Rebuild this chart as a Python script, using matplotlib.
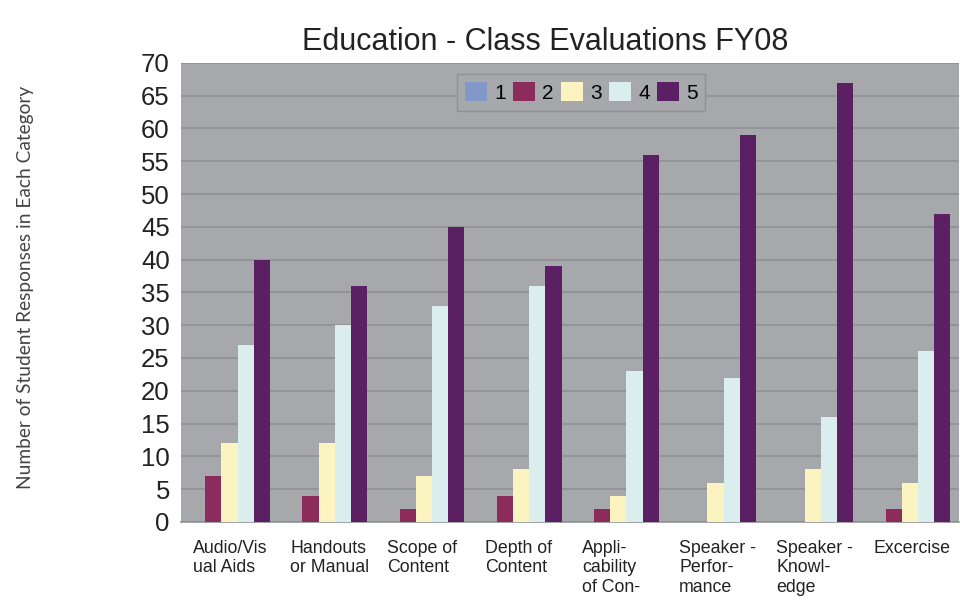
import matplotlib
matplotlib.use("Agg")
import matplotlib.pyplot as plt
import matplotlib.transforms as mtransforms
import numpy as np

categories = ["Audio/Vis\nual Aids", "Handouts\nor Manual", "Scope of\nContent", "Depth of\nContent",
              "Appli-\ncability\nof Con-", "Speaker -\nPerfor-\nmance", "Speaker -\nKnowl-\nedge", "Excercise"]
series_names = ["1", "2", "3", "4", "5"]
s1 = [0, 0, 0, 0, 0, 0, 0, 0]
s2 = [7, 4, 2, 4, 2, 0, 0, 2]
s3 = [12, 12, 7, 8, 4, 6, 8, 6]
s4 = [27, 30, 33, 36, 23, 22, 16, 26]
s5 = [40, 36, 45, 39, 56, 59, 67, 47]
series = [s1, s2, s3, s4, s5]
colors = ["#8198c9", "#8c2c5c", "#fcf4c0", "#dbeeee", "#5b1f64"]
yticks = list(range(0, 75, 5))

plt.rcParams['font.family'] = ['Liberation Sans', 'DejaVu Sans']
fig = plt.figure(figsize=(9.6, 6.02), dpi=100)
ax = fig.add_axes([0.1885, 0.133, 0.81, 0.7625])
ax.set_facecolor("#a6a8ab")

x = np.arange(len(categories))
w = 1.0 / 6
for k, (vals, c, nm) in enumerate(zip(series, colors, series_names)):
    ax.bar(x + (k - 2) * w, vals, width=w, color=c, label=nm, zorder=3, linewidth=0)

ax.set_xlim(-0.5, len(categories) - 0.5)
ax.set_ylim(0, 70)
ax.set_yticks(yticks)
ax.set_yticklabels([str(t) for t in yticks], fontsize=18.5, color="#222222")
ax.grid(axis='y', color="#8f9194", linewidth=1.2, zorder=0)
ax.set_axisbelow(True)
ax.tick_params(axis='both', length=0)
ax.tick_params(axis='y', pad=8)
for s in ['top', 'right', 'left']:
    ax.spines[s].set_visible(False)
ax.spines['bottom'].set_color("#8f9194")
ax.spines['bottom'].set_linewidth(1.2)

ax.set_xticks(x)
ax.set_xticklabels(categories, fontsize=12.8, ha='left', va='top', color="#222222", linespacing=1.2)
offset = mtransforms.ScaledTranslation(-36.5 / 100, -13 / 100, fig.dpi_scale_trans)
for lbl in ax.get_xticklabels():
    lbl.set_transform(lbl.get_transform() + offset)

fig.text(0.5677, 0.93, "Education - Class Evaluations FY08", ha='center', va='center',
         fontsize=22, color="#222222")
fig.text(0.027, 0.523, "Number of Student Responses in Each Category", rotation=90,
         ha='center', va='center', fontsize=13.8, color="#444444", family=['Lato', 'DejaVu Sans'])

leg = ax.legend(ncol=5, loc='upper center', bbox_to_anchor=(0.515, 0.976), fontsize=15,
                frameon=True, facecolor="#a6a8ab", edgecolor="#8f9194", fancybox=False,
                handlelength=1.06, handleheight=1.06, handletextpad=0.34, columnspacing=0.34,
                borderpad=0.38, borderaxespad=0)
leg.get_frame().set_linewidth(1.0)
leg.get_frame().set_alpha(1)

fig.savefig("out.png", dpi=100, facecolor="white")
